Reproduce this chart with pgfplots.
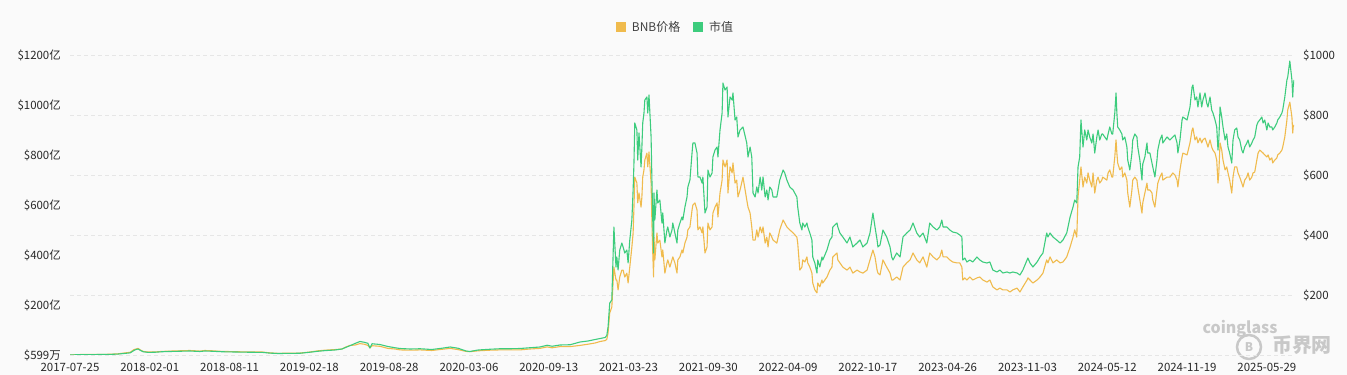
\documentclass[border=0pt]{standalone}
\usepackage{fontspec}
\setmainfont{Noto Sans CJK SC}
\usepackage{pgfplots}
\pgfplotsset{compat=1.18}
\usepackage{pgfplotstable}
\definecolor{bnbY}{RGB}{240,187,77}
\definecolor{mcG}{RGB}{61,204,125}
\definecolor{bgc}{RGB}{250,250,250}
\definecolor{gridc}{RGB}{230,230,230}
\definecolor{txt}{RGB}{40,40,40}
\definecolor{wm}{RGB}{200,200,200}

\pgfplotstableread{
d p m
0 0.2 0.06
24 1.5 1.5
48 1.6 1.6
72 1.9 1.9
96 2.5 2.4
115 4 3.8
132 7 6.5
144 9 8.5
153 18 18
158 20 22
163 22 24
168 17 19
175 12 13
187 10 10.5
203 10 11
220 12 13
239 13 14
263 14 15
287 15 16
311 13 14
323 15 16
340 14 15
364 12 13
395 11 12
431 10 11
460 10 10.5
479 7 7.5
498 5.5 6
527 6 6.5
551 6.5 7
574 10 11
594 14 15
610 16 17.5
634 18 20
651 20 24
661 27 31
670 32 37
682 33 46
694 38 54
704 36 51
713 32 47
718 24 28
723 31 45
742 29 42
761 22 34
778 20 29
790 17 26
814 16 24
838 17 25
866 15 22
890 19 27
910 22 32
929 18 27
948 12 16
957 11 14
977 14 20
1005 16 23
1029 17 25
1053 17 25
1077 17 26
1101 20 29
1125 22 32
1142 27 39
1154 24 35
1173 28 40
1197 28 41
1221 32 52
1240 36 56
1257 40 62
1269 45 66
1281 48 70
1285 52 78
1288 73 112
1292 140 208
1297 160 220
1302 293 512
1307 250 352
1309 250 392
1312 217 340
1316 260 420
1321 283 448
1324 283 432
1328 260 408
1333 273 420
1336 240 368
1340 293 460
1345 360 540
1348 407 660
1350 493 768
1352 593 928
1357 573 900
1359 507 780
1362 540 888
1367 493 752
1369 527 832
1371 593 928
1374 617 968
1376 650 1020
1381 673 1032
1383 627 968
1386 677 1040
1391 573 872
1393 440 700
1395 340 540
1397 260 408
1398 393 648
1400 317 540
1405 407 660
1407 373 608
1412 383 620
1417 327 528
1419 350 568
1424 273 448
1429 307 500
1431 317 512
1436 293 472
1441 317 500
1443 327 528
1448 307 488
1453 273 448
1455 317 500
1460 327 528
1465 350 552
1467 340 540
1472 373 592
1477 393 632
1479 417 672
1484 427 700
1489 483 808
1491 500 848
1496 507 848
1501 483 808
1503 417 712
1508 427 712
1513 407 688
1515 427 712
1520 340 568
1525 360 592
1527 440 740
1532 417 712
1537 427 728
1539 473 792
1544 493 820
1549 507 832
1551 460 792
1556 540 900
1561 583 968
1563 650 1088
1568 627 1060
1573 650 1072
1575 540 952
1580 627 1032
1585 607 1020
1587 640 1048
1592 573 940
1596 583 952
1599 527 872
1604 550 900
1611 593 912
1620 517 848
1623 493 792
1628 473 832
1632 427 792
1635 383 648
1640 383 632
1644 417 672
1647 393 648
1652 427 712
1656 407 660
1659 427 712
1664 373 632
1668 393 660
1671 360 620
1675 407 672
1680 393 660
1683 383 632
1692 373 632
1699 417 700
1707 450 740
1711 440 728
1716 427 700
1723 417 672
1731 407 660
1740 393 632
1742 373 592
1747 283 528
1752 293 500
1754 317 528
1759 310 512
1764 327 528
1766 307 512
1771 293 488
1776 273 460
1778 240 392
1783 217 368
1788 207 328
1790 240 380
1795 227 352
1800 250 392
1802 240 380
1812 260 420
1819 283 460
1824 293 472
1826 327 512
1836 340 528
1838 317 512
1843 307 488
1850 293 472
1860 283 448
1867 293 472
1874 273 432
1884 283 448
1891 277 460
1898 273 432
1908 283 448
1915 317 488
1922 350 568
1927 327 512
1932 283 460
1934 273 432
1939 267 440
1946 317 500
1955 293 472
1963 273 432
1967 250 392
1970 250 380
1979 260 408
1987 250 392
1994 293 472
2003 307 488
2011 317 500
2018 340 528
2027 317 488
2034 307 472
2042 327 488
2051 293 448
2058 340 528
2066 327 512
2075 317 500
2082 327 512
2087 350 540
2090 327 512
2099 327 512
2106 317 500
2113 310 492
2123 307 488
2130 307 480
2135 293 472
2137 250 380
2142 257 388
2147 250 372
2154 260 380
2161 250 372
2171 257 392
2178 260 380
2185 250 372
2195 243 368
2202 250 372
2209 227 340
2219 217 332
2226 223 340
2233 217 328
2243 217 332
2250 210 328
2257 217 332
2267 223 328
2274 210 320
2281 227 340
2291 250 380
2293 257 388
2298 250 368
2305 240 352
2315 250 372
2322 260 392
2329 273 408
2338 317 488
2341 307 472
2346 327 488
2353 307 472
2362 317 460
2370 307 448
2377 310 460
2386 327 488
2394 360 552
2401 393 592
2405 417 620
2410 393 608
2413 527 752
2417 583 792
2420 627 940
2425 560 832
2429 593 900
2434 573 860
2437 607 900
2441 583 872
2446 560 848
2449 607 884
2453 540 808
2458 583 872
2461 593 900
2465 573 860
2470 583 884
2472 593 884
2482 583 860
2485 607 884
2489 617 912
2494 593 884
2496 593 884
2501 660 968
2504 717 1048
2506 673 968
2508 640 912
2513 617 900
2518 627 884
2520 593 860
2525 607 872
2530 583 832
2532 540 780
2537 493 740
2542 550 808
2544 583 860
2549 593 884
2554 583 872
2556 560 832
2561 517 780
2566 473 700
2568 507 764
2573 540 792
2578 573 848
2580 550 808
2585 550 808
2590 540 768
2592 517 752
2597 493 712
2602 550 780
2604 573 820
2609 593 860
2614 607 880
2616 583 848
2626 593 872
2633 593 860
2640 607 872
2645 600 880
2650 583 848
2652 560 808
2657 617 860
2662 660 940
2664 673 952
2674 667 940
2681 707 992
2686 750 1072
2688 757 1080
2693 717 1020
2697 727 1032
2700 707 992
2705 723 1048
2709 707 992
2712 717 1020
2717 723 1048
2721 707 1008
2724 693 992
2729 717 1032
2733 693 980
2736 683 968
2741 673 940
2745 650 912
2748 573 820
2750 607 860
2753 707 992
2757 683 952
2760 650 912
2765 617 860
2769 627 884
2772 607 832
2776 583 808
2781 540 768
2784 593 860
2788 627 900
2793 627 908
2796 607 872
2800 593 860
2805 573 820
2808 560 808
2812 583 832
2817 593 848
2820 607 860
2824 583 832
2829 593 848
2832 607 860
2836 610 872
2841 650 920
2844 673 932
2848 683 940
2853 677 952
2856 673 928
2860 667 940
2865 660 900
2868 667 928
2872 650 912
2877 657 912
2879 640 900
2884 650 912
2889 657 928
2891 667 940
2896 673 952
2901 683 968
2903 693 980
2908 727 1032
2913 783 1100
2915 817 1112
2920 843 1176
2925 793 1100
2927 740 1032
2928 760 1072
2930 767 1100
}\bnbdata

\begin{document}
\begin{tikzpicture}[x=1bp,y=1bp]
\useasboundingbox (0bp,0bp) rectangle (1347bp,375bp);
\fill[bgc] (0bp,0bp) rectangle (1347bp,375bp);
% watermark
\node[text=wm, font=\fontsize{16}{16}\selectfont\bfseries] at (1240bp,46bp) {coinglass};
\draw[wm, line width=2.5bp] (1249bp,28bp) circle (12bp);
\node[text=wm, font=\fontsize{12}{12}\selectfont\bfseries] at (1249bp,28bp) {B};
\node[text=wm, font=\fontsize{20}{20}\selectfont\bfseries] at (1302bp,30bp) {币界网};

% price axis (right)
\begin{axis}[
  name=pa,
  at={(70bp,20bp)}, anchor=south west,
  scale only axis, width=1224bp, height=300bp,
  xmin=0, xmax=2930, ymin=0, ymax=1000,
  axis y line*=right, axis x line*=bottom,
  axis line style={draw=none},
  major tick length=0pt,
  ytick={0,200,400,600,800,1000},
  yticklabels={,\$200,\$400,\$600,\$800,\$1000},
  ymajorgrids,
  grid style={gridc, dash pattern=on 4bp off 3bp, line width=0.7bp},
  xtick={0,191,382,573,764,955,1146,1337,1528,1719,1910,2101,2292,2483,2674,2865},
  xticklabels={2017-07-25,2018-02-01,2018-08-11,2019-02-18,2019-08-28,2020-03-06,2020-09-13,2021-03-23,2021-09-30,2022-04-09,2022-10-17,2023-04-26,2023-11-03,2024-05-12,2024-11-19,2025-05-29},
  tick label style={font=\fontsize{11.5}{12}\selectfont, text=txt, inner sep=0pt},
  yticklabel style={anchor=west, xshift=9bp},
  xticklabel style={anchor=north, yshift=-8bp},
]
\addplot[bnbY, line width=1.1bp, line join=round] table[x=d, y=p] {\bnbdata};
\end{axis}

% market cap axis (left)
\begin{axis}[
  at={(pa.south west)}, anchor=south west,
  scale only axis, width=1224bp, height=300bp,
  xmin=0, xmax=2930, ymin=0, ymax=1200,
  axis y line*=left, axis x line*=bottom,
  axis line style={draw=none},
  major tick length=0pt,
  ytick={0,200,400,600,800,1000,1200},
  yticklabels={\$599万,\$200亿,\$400亿,\$600亿,\$800亿,\$1000亿,\$1200亿},
  xtick=\empty,
  tick label style={font=\fontsize{11.5}{12}\selectfont, text=txt, inner sep=0pt},
  yticklabel style={anchor=east, xshift=-9bp},
  legend style={at={(0.4939,1.093)}, anchor=center, draw=none, fill=none,
    font=\fontsize{12}{12}\selectfont, text=black!75,
    /tikz/every odd column/.append style={column sep=6bp},
    /tikz/every even column/.append style={column sep=13bp},
    nodes={inner sep=0pt}},
  legend columns=-1,
  legend image code/.code={\fill[#1, draw=none] (0bp,-5bp) rectangle (10bp,5bp);},
]
\addlegendimage{fill=bnbY, draw=none}
\addlegendentry{BNB价格}
\addlegendimage{fill=mcG, draw=none}
\addlegendentry{市值}
\addplot[mcG, line width=1.1bp, line join=round, forget plot] table[x=d, y=m] {\bnbdata};
\end{axis}
\end{tikzpicture}
\end{document}
